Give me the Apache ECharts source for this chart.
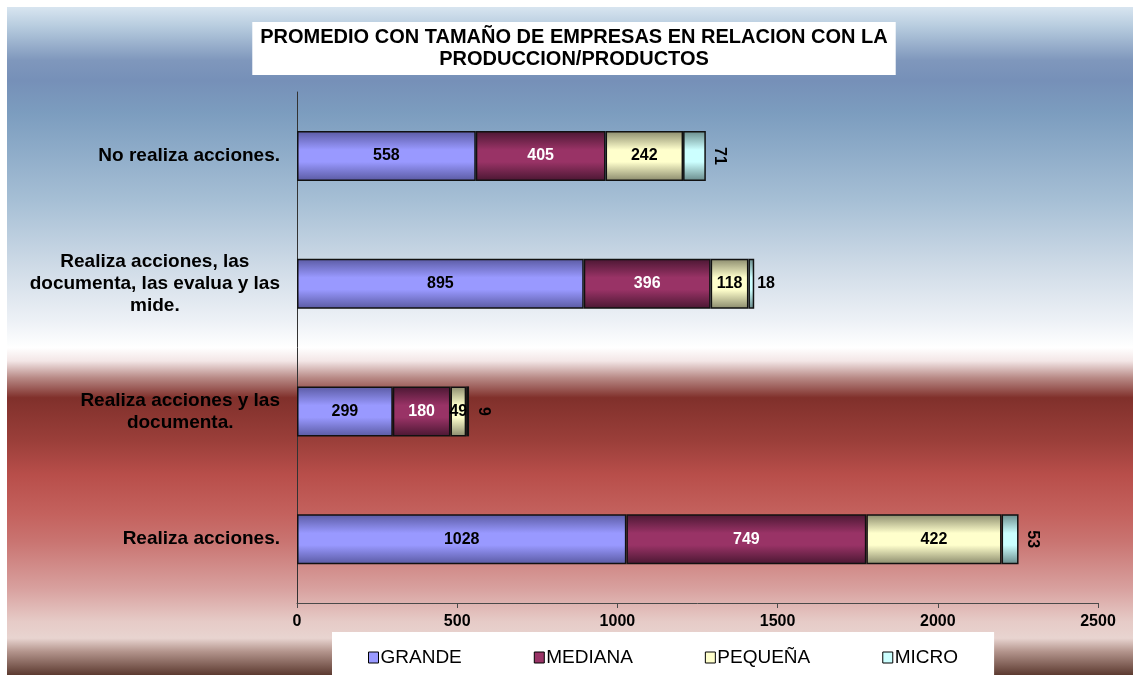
<!DOCTYPE html>
<html>
<head>
<meta charset="utf-8">
<title>Promedio con tamaño de empresas</title>
<script src="https://cdn.jsdelivr.net/npm/echarts@6/dist/echarts.min.js"></script>
<style>
    html, body { margin: 0; padding: 0; background: #fff; }
    #chart { width: 1133px; height: 675px; }
</style>
</head>
<body>
<div id="chart"></div>
<script>
var categories = [
    'No realiza acciones.',
    'Realiza acciones, las\ndocumenta, las evalua y las\nmide.',
    'Realiza acciones y las\ndocumenta.',
    'Realiza acciones.'
];
var seriesNames = ['GRANDE', 'MEDIANA', 'PEQUEÑA', 'MICRO'];
var grande = [558, 895, 299, 1028];
var mediana = [405, 396, 180, 749];
var pequena = [242, 118, 49, 422];
var micro = [71, 18, 9, 53];
var xMin = 0, xMax = 2500, xStep = 500;

var font = '"Liberation Sans", Arial, sans-serif';

// degradado tipo Excel: bordes oscuros, centro claro
function barGrad(edge, mid) {
    return {
        type: 'linear', x: 0, y: 0, x2: 0, y2: 1,
        colorStops: [
            {offset: 0, color: edge},
            {offset: 0.38, color: mid},
            {offset: 0.62, color: mid},
            {offset: 1, color: edge}
        ]
    };
}

var myChart = echarts.init(document.getElementById('chart'));

var baseLabel = {
    show: true,
    position: 'inside',
    fontFamily: font,
    fontSize: 16,
    fontWeight: 'bold'
};

var option = {
    backgroundColor: '#ffffff',
    animation: false,
    graphic: [
        {
            type: 'rect',
            z: -10,
            silent: true,
            shape: {x: 7, y: 7, width: 1126, height: 668},
            style: {
                fill: {
                    type: 'linear', x: 0, y: 0, x2: 0, y2: 1,
                    colorStops: [
                        {offset: 0.00, color: '#d8e5f0'},
                        {offset: 0.03, color: '#b6cbde'},
                        {offset: 0.08, color: '#7f97bc'},
                        {offset: 0.11, color: '#7690b8'},
                        {offset: 0.16, color: '#7c9dbf'},
                        {offset: 0.29, color: '#a6bfd5'},
                        {offset: 0.39, color: '#cfdbe7'},
                        {offset: 0.47, color: '#edf1f6'},
                        {offset: 0.51, color: '#ffffff'},
                        {offset: 0.53, color: '#f3e6e6'},
                        {offset: 0.555, color: '#b88a86'},
                        {offset: 0.585, color: '#80302b'},
                        {offset: 0.65, color: '#9b3f3a'},
                        {offset: 0.70, color: '#b84e4a'},
                        {offset: 0.76, color: '#c4625e'},
                        {offset: 0.80, color: '#c97471'},
                        {offset: 0.87, color: '#d8a09e'},
                        {offset: 0.92, color: '#e6cbc7'},
                        {offset: 0.945, color: '#e8d4d0'},
                        {offset: 0.965, color: '#b3948c'},
                        {offset: 1.00, color: '#5c3a30'}
                    ]
                }
            }
        }
    ],
    title: {
        text: 'PROMEDIO CON TAMAÑO DE EMPRESAS EN RELACION CON LA\nPRODUCCION/PRODUCTOS',
        left: 566,
        top: 22,
        textAlign: 'center',
        padding: [4, 8, 5, 8],
        backgroundColor: '#ffffff',
        textStyle: {
            fontFamily: font,
            fontSize: 20,
            fontWeight: 'bold',
            color: '#000',
            lineHeight: 22
        }
    },
    legend: {
        left: 332,
        top: 632,
        padding: [16, 36, 20, 36],
        backgroundColor: '#ffffff',
        itemGap: 72,
        itemWidth: 10,
        itemHeight: 11,
        icon: 'rect',
        itemStyle: {borderColor: '#000', borderWidth: 1},
        textStyle: {fontFamily: font, fontSize: 19, color: '#000', padding: [0, 0, 0, -3]},
        data: [
            {name: 'GRANDE', itemStyle: {color: '#9999ff'}},
            {name: 'MEDIANA', itemStyle: {color: '#993366'}},
            {name: 'PEQUEÑA', itemStyle: {color: '#ffffcc'}},
            {name: 'MICRO', itemStyle: {color: '#ccffff'}}
        ]
    },
    grid: {
        left: 297,
        right: 35,
        top: 92,
        bottom: 72
    },
    xAxis: {
        type: 'value',
        min: xMin,
        max: xMax,
        interval: xStep,
        splitLine: {show: false},
        axisLine: {show: true, lineStyle: {color: '#4a4a4a', width: 1}},
        axisTick: {show: true, length: 5, lineStyle: {color: '#4a4a4a'}},
        axisLabel: {
            margin: 11,
            formatter: function (v) { return String(v); },
            fontFamily: font,
            fontSize: 16,
            fontWeight: 'bold',
            color: '#000'
        }
    },
    yAxis: {
        type: 'category',
        inverse: true,
        data: categories,
        axisLine: {show: true, lineStyle: {color: '#333', width: 1}},
        axisTick: {show: false},
        axisLabel: {
            margin: 17,
            formatter: function (v) {
                // cada linea centrada dentro del bloque
                return v.split('\n').map(function (l) { return '{c|' + l + '}'; }).join('\n');
            },
            rich: {
                c: {
                    align: 'center',
                    fontFamily: font,
                    fontSize: 19,
                    fontWeight: 'bold',
                    color: '#000',
                    lineHeight: 22
                }
            }
        }
    },
    series: [
        {
            name: seriesNames[0],
            type: 'bar',
            stack: 'total',
            barWidth: 50,
            itemStyle: {color: barGrad('#5a5aa2', '#9999ff'), borderColor: '#111', borderWidth: 1.5},
            label: Object.assign({}, baseLabel, {color: '#000'}),
            data: grande
        },
        {
            name: seriesNames[1],
            type: 'bar',
            stack: 'total',
            itemStyle: {color: barGrad('#4a1732', '#993366'), borderColor: '#111', borderWidth: 1.5},
            label: Object.assign({}, baseLabel, {color: '#fff'}),
            data: mediana
        },
        {
            name: seriesNames[2],
            type: 'bar',
            stack: 'total',
            itemStyle: {color: barGrad('#8a8a6c', '#ffffcc'), borderColor: '#111', borderWidth: 1.5},
            label: Object.assign({}, baseLabel, {color: '#000'}),
            data: pequena
        },
        {
            name: seriesNames[3],
            type: 'bar',
            stack: 'total',
            itemStyle: {color: barGrad('#688a8a', '#ccffff'), borderColor: '#111', borderWidth: 1.5},
            label: Object.assign({}, baseLabel, {color: '#000', position: 'right', distance: 3}),
            data: micro.map(function (v, i) {
                if (i === 1) {
                    return v;
                }
                // etiquetas giradas como en el original
                return {
                    value: v,
                    label: {rotate: -90, align: 'center', verticalAlign: 'bottom', distance: 6}
                };
            })
        }
    ]
};
myChart.setOption(option);
</script>
</body>
</html>
